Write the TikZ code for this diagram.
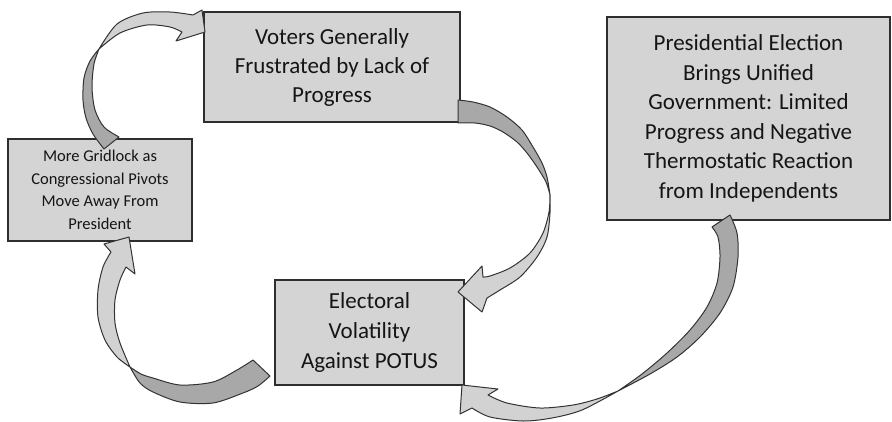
\documentclass[tikz,border=0pt]{standalone}
\usepackage{fontspec}
\setmainfont{Carlito}
\definecolor{boxfill}{HTML}{D4D4D4}
\definecolor{boxline}{HTML}{2E2E2E}
\definecolor{arrdark}{HTML}{A8A8A8}
\definecolor{arrlight}{HTML}{D2D2D2}
\definecolor{arrline}{HTML}{333333}
\definecolor{textcol}{HTML}{151515}
\begin{document}
\begin{tikzpicture}[x=1pt,y=-1pt,
  box/.style={draw=boxline, fill=boxfill, line width=1.5pt, inner sep=0pt, align=center, text=textcol},
  bigtext/.style={font=\fontsize{23}{29}\selectfont},
  smalltext/.style={font=\fontsize{16.5}{22.5}\selectfont},
  darkpart/.style={fill=arrdark, draw=arrline, line width=1pt, line join=round},
  lightpart/.style={fill=arrlight, draw=arrline, line width=1pt, line join=round}]
\useasboundingbox (0,0) rectangle (892,421);

% boxes
\node[box, bigtext, minimum width=256pt, minimum height=110pt] (voters) at (332,67)
  {Voters Generally\\Frustrated by Lack of\\Progress};
\node[box, font=\fontsize{23}{29.5}\selectfont, minimum width=283pt, minimum height=203pt] (pres) at (748.5,118.5)
  {Presidential Election\\Brings Unified\\Government: Limited\\Progress and Negative\\Thermostatic Reaction\\from Independents};
\node[box, smalltext, minimum width=184pt, minimum height=102pt] (grid) at (100,190)
  {More Gridlock as\\Congressional Pivots\\Move Away From\\President};
\node[box, font=\fontsize{23}{30}\selectfont, minimum width=189pt, minimum height=105pt] (elect) at (369.5,332.5)
  {Electoral\\Volatility\\Against POTUS};

% arrow 1: gridlock -> voters
\draw[darkpart] plot[smooth] coordinates {(104,149) (93,134) (86,118) (83,100) (84,78) (90,61) (99,49)}
  -- plot[smooth] coordinates {(99,49) (94,64) (92,87) (95,110) (104,127) (119,137)} -- cycle;
\draw[lightpart] plot[smooth] coordinates {(99,49) (117,24) (143,13) (170,12) (193,15)}
  -- (202,10) -- (205,32) -- (176,41) -- (182,32)
  -- plot[smooth] coordinates {(182,32) (170,27) (147,25) (120,33) (99,49)} -- cycle;

% arrow 2: voters -> electoral
\draw[darkpart] plot[smooth] coordinates {(458,100) (473,102) (490,107) (507,117) (522,130) (533,147) (542,163) (547,177) (550,195)}
  -- plot[smooth] coordinates {(550,195) (546,182) (537,167) (527,153) (517,142) (503,132) (490,126) (475,123) (458,123)} -- cycle;
\draw[lightpart] plot[smooth] coordinates {(550,195) (550,213) (547,237) (537,257) (520,277) (500,290) (487,298)}
  -- (482,312) -- (458,292) -- (482,266) -- (483,277)
  -- plot[smooth] coordinates {(483,277) (490,276) (510,268) (530,253) (543,233) (549,212) (550,195)} -- cycle;

% arrow 3: electoral -> gridlock
\draw[darkpart] plot[smooth] coordinates {(270,376) (258,386) (243,393) (213,403) (180,402) (153,392) (140,383) (130,367)}
  -- plot[smooth] coordinates {(130,367) (141,374) (153,378) (180,385) (213,382) (237,370) (253,360)} -- cycle;
\draw[lightpart] plot[smooth] coordinates {(130,367) (117,357) (105,340) (98,317) (98,290) (103,267) (111,252)}
  -- (104,244) -- (129,237) -- (135,274) -- (126,267)
  -- plot[smooth] coordinates {(126,267) (120,280) (115,300) (115,323) (120,343) (130,367)} -- cycle;

% arrow 4: presidential -> electoral
\draw[darkpart] plot[smooth] coordinates {(730,215) (737,233) (738,257) (733,287) (720,313) (700,337) (677,357) (650,374) (618,391)}
  -- plot[smooth] coordinates {(618,391) (642,374) (667,353) (690,330) (707,307) (717,283) (720,257) (718,237) (712,227)} -- cycle;
\draw[lightpart] plot[smooth] coordinates {(618,391) (597,399) (573,405) (540,408) (507,403) (488,395)}
  -- (498,389) -- (462,385) -- (460,414) -- (472,408)
  -- plot[smooth] coordinates {(472,408) (490,417) (523,421) (552,418) (582,410) (618,391)} -- cycle;
\end{tikzpicture}
\end{document}
